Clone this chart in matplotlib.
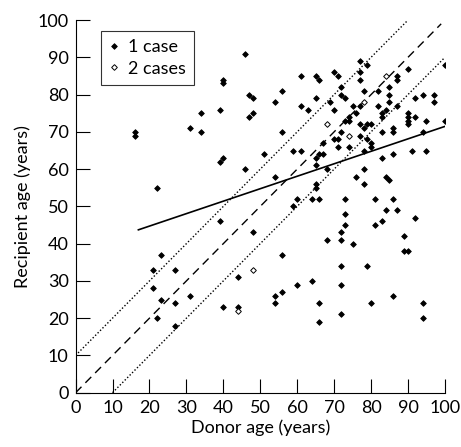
import matplotlib
matplotlib.use('Agg')
import matplotlib.pyplot as plt
import numpy as np

plt.rcParams['font.family'] = ['Lato', 'DejaVu Sans']
font_size = 13

# donor age, recipient age for single cases
donor_1 = [16, 16, 22, 31, 34, 34, 39, 40, 40, 39, 40,
           21, 23, 21, 23, 22, 27, 27, 27, 31, 40, 39,
           46, 47, 48, 47, 48, 54, 56, 56, 51, 46, 54,
           48, 56, 44, 44, 54, 54, 56, 60, 64, 66, 66,
           68, 72, 72, 73, 75, 72, 72, 72, 79, 80, 81, 83, 86, 89, 89, 90, 94, 94,
           73, 73, 59, 60, 64, 66, 81, 86, 84, 87, 92,
           65, 65, 76, 78, 78, 84, 85, 68, 65, 65, 66, 67, 59, 61, 78, 83, 86, 91, 95,
           71, 70, 71, 74, 67, 80, 80, 79, 77, 72, 83, 86, 86, 94,
           73, 74, 74, 76, 77, 78, 79, 80, 83, 83, 90, 90, 90, 90, 92, 95, 100,
           61, 63, 65, 69, 70, 72, 72, 73, 75, 77, 78, 82, 82, 85, 85, 85, 84, 87,
           92, 94, 97, 97,
           61, 65, 66, 70, 71, 77, 79, 77, 77, 87, 87, 90, 100]
recip_1 = [70, 69, 55, 71, 75, 70, 76, 84, 83, 62, 63,
           33, 37, 28, 25, 20, 33, 24, 18, 26, 23, 46,
           91, 80, 79, 74, 75, 78, 81, 70, 64, 60, 58,
           43, 37, 31, 23, 26, 24, 27, 29, 30, 24, 19,
           41, 43, 41, 45, 40, 34, 29, 21, 34, 24, 45, 46, 26, 42, 38, 38, 24, 20,
           48, 52, 50, 52, 52, 52, 52, 52, 49, 49, 47,
           56, 55, 58, 60, 56, 58, 57, 60, 61, 63, 64, 64, 65, 65, 65, 63, 64, 65, 65,
           68, 68, 66, 66, 67, 67, 66, 68, 69, 70, 70, 71, 70, 70,
           73, 74, 73, 75, 72, 71, 72, 72, 75, 74, 75, 74, 73, 72, 74, 73, 73,
           77, 76, 79, 78, 76, 82, 80, 79, 77, 77, 81, 81, 77, 82, 80, 78, 76, 77,
           79, 80, 80, 78,
           85, 85, 84, 86, 85, 89, 88, 86, 84, 85, 84, 87, 88]

# donor age, recipient age for two cases
donor_2 = [44, 48, 68, 74, 78, 84]
recip_2 = [22, 33, 72, 69, 78, 85]

# reference lines: identity and +/- 10 years
ident_x = [0, 99]
upper_x = [0, 90]
lower_x = [10, 100]
offset = 10

fig = plt.figure(figsize=(4.61, 4.47), dpi=100)
ax = fig.add_axes([0.164, 0.1215, 0.801, 0.8335])

ax.plot(donor_1, recip_1, linestyle='', marker='D', markersize=2.9,
        color='k', markeredgewidth=0.6, label='1 case', zorder=3)
ax.plot(donor_2, recip_2, linestyle='', marker='D', markersize=2.9,
        markerfacecolor='white', markeredgecolor='k', markeredgewidth=0.7,
        label='2 cases', zorder=4)

# regression line across the donor range
all_x = np.array(donor_1 + donor_2 + donor_2)
all_y = np.array(recip_1 + recip_2 + recip_2)
slope, intercept = np.polyfit(all_x, all_y, 1)
fit_x = np.array([all_x.min() + 1, 100])
ax.plot(fit_x, intercept + slope * fit_x, color='k', linewidth=1.2)

ax.plot(ident_x, ident_x, color='k', linewidth=1.0, linestyle=(0, (6, 4)))
ux = np.array(upper_x)
ax.plot(ux, ux + offset, color='k', linewidth=1.0, linestyle=(0, (1, 1.5)))
lx = np.array(lower_x)
ax.plot(lx, lx - offset, color='k', linewidth=1.0, linestyle=(0, (1, 1.5)))

ax.set_xlim(0, 100)
ax.set_ylim(0, 100)
ax.set_xticks(np.arange(0, 101, 10))
ax.set_yticks(np.arange(0, 101, 10))
ax.spines['top'].set_visible(False)
ax.spines['right'].set_visible(False)
ax.tick_params(direction='in', length=10, width=0.8, labelsize=font_size,
               pad=5)
ax.tick_params(axis='x', pad=5)
ax.set_xlabel('Donor age (years)', fontsize=font_size, labelpad=3)
ax.set_ylabel('Recipient age (years)', fontsize=font_size, labelpad=5)

leg = ax.legend(loc='upper left', bbox_to_anchor=(0.055, 0.985), numpoints=1,
                fontsize=font_size, frameon=True, fancybox=False,
                handlelength=0.5, handletextpad=0.5, borderpad=0.45,
                labelspacing=0.3, borderaxespad=0.3)
leg.get_frame().set_edgecolor('k')
leg.get_frame().set_linewidth(0.8)

plt.savefig('out.png', dpi=100)
plt.close()
